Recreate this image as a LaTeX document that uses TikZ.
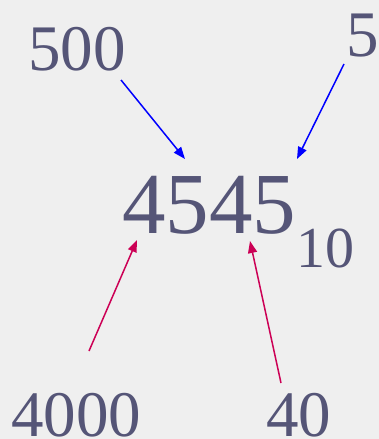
\documentclass[tikz,border=0pt]{standalone}
\usepackage{fontspec}
\setmainfont{Liberation Serif}
\usetikzlibrary{arrows.meta}
\definecolor{bgc}{HTML}{EFEFEF}
\definecolor{txt}{HTML}{555577}
\definecolor{bluearr}{HTML}{0000FF}
\definecolor{redarr}{HTML}{CC0055}
\tikzset{
  num/.style={anchor=base west, inner sep=0pt, text=txt, font=\fontsize{65}{70}\selectfont},
  bignum/.style={anchor=base west, inner sep=0pt, text=txt, font=\fontsize{87}{90}\selectfont},
  subnum/.style={anchor=base west, inner sep=0pt, text=txt, font=\fontsize{58}{60}\selectfont},
  arr/.style={line width=1.5pt, -{Triangle[length=12pt,width=9pt]}}
}
\begin{document}
\begin{tikzpicture}[x=1pt,y=-1pt]
\fill[bgc] (0,0) rectangle (379,439);
\useasboundingbox (0,0) rectangle (379,439);
\node[num] (n500) at (28,70) {500};
\node[num] (n5) at (346,56) {5};
\node[bignum] (main) at (122,233) {4545};
\node[subnum] (base) at (296,267) {10};
\node[num] (n4000) at (11,436) {4000};
\node[num] (n40) at (266,436) {40};
\coordinate (s500) at (121,80);
\coordinate (e500) at (185,159);
\coordinate (s5) at (344,64);
\coordinate (e5) at (297,159);
\coordinate (s4000) at (89,351);
\coordinate (e4000) at (137,240);
\coordinate (s40) at (281,383);
\coordinate (e40) at (250,241);
\draw[arr, bluearr] (s500) -- (e500);
\draw[arr, bluearr] (s5) -- (e5);
\draw[arr, redarr] (s4000) -- (e4000);
\draw[arr, redarr] (s40) -- (e40);
\end{tikzpicture}
\end{document}
